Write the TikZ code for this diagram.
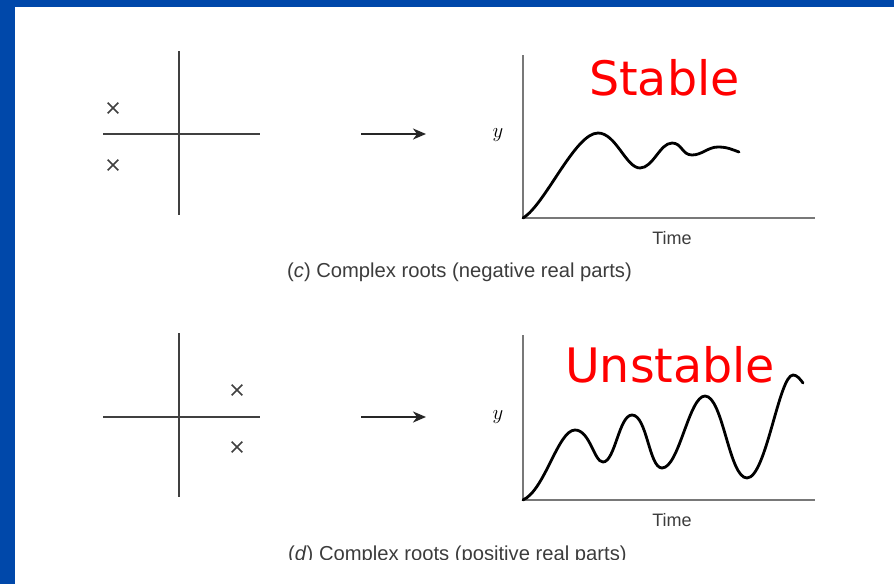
\documentclass[tikz,border=0pt]{standalone}
\usepackage{fontspec}
\setmainfont{Liberation Sans}
\newfontfamily\labelfont{DejaVu Sans}
\usetikzlibrary{arrows.meta,shapes.misc}
\definecolor{frameblue}{RGB}{0,72,170}
\definecolor{axisgrey}{RGB}{120,120,120}
\definecolor{capgrey}{RGB}{60,60,60}
\begin{document}
\begin{tikzpicture}[x=1pt,y=-1pt,
  splane/.style={draw=black!75,line width=2pt},
  gaxis/.style={draw=axisgrey,line width=2.6pt},
  resp/.style={draw=black,line width=2.8pt,line cap=round},
  rootmark/.style={cross out,draw=black!75,line width=1.7pt,minimum size=9pt,inner sep=0pt},
  maparrow/.style={draw=black!85,line width=2.6pt,-{Stealth[length=13pt,width=11pt,inset=4pt]}},
  verdict/.style={text=red,font=\labelfont\fontsize{47.5}{48}\selectfont,anchor=base west,inner sep=0pt},
  caption/.style={text=capgrey,font=\fontsize{20.2}{21}\selectfont,anchor=base west,inner sep=0pt},
  timelbl/.style={text=capgrey,font=\fontsize{18}{18}\selectfont,inner sep=0pt},
  ylbl/.style={font=\fontsize{22}{22}\selectfont,inner sep=0pt}]
\useasboundingbox (0,0) rectangle (894,584);
\fill[white] (0,0) rectangle (894,584);
\fill[frameblue] (0,0) rectangle (894,7);
\fill[frameblue] (0,0) rectangle (15,584);

% ---------- top panel ----------
\coordinate (c1t) at (179,51);
\coordinate (c1b) at (179,215);
\coordinate (c1l) at (103,134);
\coordinate (c1r) at (260,134);
\draw[splane] (c1t) -- (c1b);
\draw[splane] (c1l) -- (c1r);
\node[rootmark] (r1a) at (113,108) {};
\node[rootmark] (r1b) at (113,165) {};
\coordinate (a1s) at (361,134);
\coordinate (a1e) at (426,134);
\draw[maparrow] (a1s) -- (a1e);
\coordinate (g1o) at (523,218);
\coordinate (g1t) at (523,55);
\coordinate (g1r) at (815,218);
\draw[gaxis] (g1t) -- (g1o) -- (g1r);
\node[ylbl] (y1) at (498,135) {$y$};
\node[timelbl] (t1) at (672,238) {Time};
\draw[resp] (g1o) .. controls (545,205) and (575,133) .. (598,133)
  .. controls (616,133) and (626,168) .. (640,168)
  .. controls (653,168) and (660,143) .. (672,143)
  .. controls (682,143) and (682,155) .. (692,155)
  .. controls (702,155) and (708,147) .. (718,147)
  .. controls (728,147) and (733,150) .. (739,152);
\node[verdict] (stable) at (589,95) {Stable};
\node[caption] (capc) at (287,277) {(\textit{c}) Complex roots (negative real parts)};

% ---------- bottom panel ----------
\coordinate (c2t) at (179,333);
\coordinate (c2b) at (179,497);
\coordinate (c2l) at (103,417);
\coordinate (c2r) at (260,417);
\draw[splane] (c2t) -- (c2b);
\draw[splane] (c2l) -- (c2r);
\node[rootmark] (r2a) at (237,390) {};
\node[rootmark] (r2b) at (237,447) {};
\coordinate (a2s) at (361,417);
\coordinate (a2e) at (426,417);
\draw[maparrow] (a2s) -- (a2e);
\coordinate (g2o) at (523,500);
\coordinate (g2t) at (523,335);
\coordinate (g2r) at (815,500);
\draw[gaxis] (g2t) -- (g2o) -- (g2r);
\node[ylbl] (y2) at (498,417) {$y$};
\node[timelbl] (t2) at (672,520) {Time};
\draw[resp] (g2o) .. controls (545,490) and (558,430) .. (575,430)
  .. controls (590,430) and (594,462) .. (603,462)
  .. controls (615,462) and (619,415) .. (632,415)
  .. controls (647,415) and (649,468) .. (662,468)
  .. controls (679,468) and (689,396) .. (705,396)
  .. controls (723,396) and (729,478) .. (747,478)
  .. controls (766,478) and (779,375) .. (793,375)
  .. controls (797,375) and (800,379) .. (803,383);
\node[verdict] (unstable) at (565,382) {Unstable};
\begin{scope}
  \clip (250,530) rectangle (700,559.5);
  \node[caption] (capd) at (288,560) {(\textit{d}) Complex roots (positive real parts)};
\end{scope}
\end{tikzpicture}
\end{document}
